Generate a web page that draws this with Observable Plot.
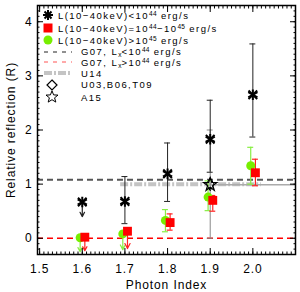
<!DOCTYPE html>
<html><head><meta charset="utf-8">
<script src="https://cdn.jsdelivr.net/npm/d3@7"></script>
<script src="https://cdn.jsdelivr.net/npm/@observablehq/plot@0.6"></script>
<style>
body{margin:0;background:#fff;font-family:"Liberation Sans",Arial,sans-serif;}
#wrap{position:relative;width:300px;height:292px;}
#legend{position:absolute;left:0;top:0;font-size:9.5px;letter-spacing:1.45px;line-height:1;color:#000;}
.row{position:absolute;display:flex;align-items:center;white-space:nowrap;height:10px;}
.row span{line-height:9px;display:inline-block;}
.row svg{flex:none;}
sup{font-size:6.5px;line-height:0;vertical-align:3.5px;letter-spacing:0.3px;}
sub{font-size:6.5px;line-height:0;vertical-align:-2px;letter-spacing:0;}
</style></head><body>
<div id="wrap"><div id="chart"></div><div id="legend"></div></div>
<script>
// Photon index bins
const gamma = [1.6, 1.7, 1.8, 1.9, 2.0];
// L(10-40keV) < 1e44
const lowR   = [0.67, 0.68, 1.19, 1.83, 2.65];
const lowLo  = [null, 0.27, 0.68, 1.22, 1.87];
const lowHi  = [null, 1.14, 1.76, 2.55, 3.59];
const lowLim = [0.40, null, null, null, null];
// L = 1e44 - 1e45
const midR   = [0.02, 0.13, 0.29, 0.70, 1.21];
const midLo  = [null, null, 0.15, 0.50, 0.97];
const midHi  = [null, null, 0.45, 0.79, 1.46];
const midLim = [-0.23, -0.19, null, null, null];
// L > 1e45
const hiR    = [0.01, 0.08, 0.33, 0.76, 1.34];
const hiLo   = [null, null, 0.12, 0.51, 1.00];
const hiHi   = [null, null, 0.53, 1.06, 1.68];
const hiLim  = [-0.25, -0.21, null, null, null];
// reference values
const g07Low = 1.08, g07High = 0.0;
const u14 = {x1: 1.69, x2: 2.02, y: 1.0};
const a15 = {x: 1.9, y: 0.99, lo: 0.0, hi: 2.0, x2: 2.1};
const u03 = {x: 1.9, y: 1.0};
const xTicks = [1.5, 1.6, 1.7, 1.8, 1.9, 2.0];
const yTicks = [0, 1, 2, 3, 4];

const mk = (R, lo, hi, lim, dx) => gamma.map((g, i) => ({x: g + dx, y: R[i], lo: lo[i], hi: hi[i], lim: lim[i]}));
const low = mk(lowR, lowLo, lowHi, lowLim, 0);
const mid = mk(midR, midLo, midHi, midLim, 0.006);
const hig = mk(hiR, hiLo, hiHi, hiLim, -0.005);
const withErr = a => a.filter(d => d.lo != null);
const withLim = a => a.filter(d => d.lim != null);
const cap = 0.007;

const errMarks = (data, color, sw) => [
  Plot.ruleX(withErr(data), {x: "x", y1: "lo", y2: "hi", stroke: color, strokeWidth: sw}),
  Plot.ruleY(withErr(data), {y: "lo", x1: d => d.x - cap, x2: d => d.x + cap, stroke: color, strokeWidth: sw}),
  Plot.ruleY(withErr(data), {y: "hi", x1: d => d.x - cap, x2: d => d.x + cap, stroke: color, strokeWidth: sw}),
  Plot.arrow(withLim(data), {x1: "x", x2: "x", y1: "y", y2: "lim", stroke: color, strokeWidth: 1.2, headLength: 7, headAngle: 55})
];

const minorX = d3.range(150, 210).map(v => v / 100);
const minorY = d3.range(-3, 44).map(v => v / 10);
const F = "Liberation Sans, Arial, sans-serif";

const plot = Plot.plot({
  width: 300, height: 292,
  marginLeft: 37, marginRight: 5, marginTop: 5, marginBottom: 38,
  style: {fontFamily: F, fontSize: "12px", letterSpacing: "0.9px", background: "white"},
  x: {domain: [1.495, 2.1]},
  y: {domain: [-0.3, 4.3]},
  marks: [
    // reference lines
    Plot.ruleY([g07High], {stroke: "#ff0000", strokeWidth: 1.5, strokeDasharray: "6,4"}),
    Plot.ruleY([u14], {y: "y", x1: "x1", x2: "x2", stroke: "#c4c4c4", strokeWidth: 4, strokeDasharray: "8,2,2,2"}),
    Plot.ruleY([a15], {y: "y", x1: "x", x2: "x2", stroke: "#aaaaaa", strokeWidth: 1.5}),
    Plot.ruleY([g07Low], {stroke: "#555", strokeWidth: 2, strokeDasharray: "6,4"}),
    // A15 error bar
    Plot.ruleX([a15], {x: "x", y1: "lo", y2: "hi", stroke: "#888", strokeWidth: 1}),
    Plot.ruleY([a15], {y: "lo", x1: d => d.x - cap, x2: d => d.x + cap, stroke: "#888"}),
    Plot.ruleY([a15], {y: "hi", x1: d => d.x - cap, x2: d => d.x + cap, stroke: "#888"}),
    // error bars
    ...errMarks(low, "#222", 1),
    ...errMarks(hig, "#88ee44", 1.2),
    ...errMarks(mid, "#ff2222", 1.2),
    // points
    Plot.dot(hig, {x: "x", y: "y", r: 4.5, fill: "#77ee00", stroke: "none"}),
    Plot.dot(mid, {x: "x", y: "y", symbol: "square", r: 5, fill: "#ff0000", stroke: "none"}),
    Plot.dot(low, {x: "x", y: "y", symbol: "asterisk", r: 5, stroke: "#000", strokeWidth: 2}),
    Plot.dot(low, {x: "x", y: "y", symbol: "times", r: 4, stroke: "#000", strokeWidth: 2}),
    Plot.dot([u03], {x: "x", y: "y", symbol: "diamond", r: 4, fill: "none", stroke: "#000", strokeWidth: 1}),
    Plot.dot([a15], {x: "x", y: "y", symbol: "star", r: 4.2, fill: "none", stroke: "#000", strokeWidth: 1.2}),
    // axes: inward ticks on all four sides
    Plot.axisX(xTicks, {anchor: "bottom", tickSize: 0, tickPadding: 10, tickFormat: d3.format(".1f"), label: "Photon Index", labelAnchor: "center", labelArrow: "none", labelOffset: 34, fontSize: 12}),
    Plot.axisX(xTicks, {anchor: "bottom", tickSize: -6, text: null, label: null}),
    Plot.axisX(minorX, {anchor: "bottom", tickSize: -2.5, text: null, label: null}),
    Plot.axisX(xTicks, {anchor: "top", tickSize: -6, text: null, label: null}),
    Plot.axisX(minorX, {anchor: "top", tickSize: -2.5, text: null, label: null}),
    Plot.axisY(yTicks, {anchor: "left", tickSize: 0, tickPadding: 5, tickFormat: d3.format("d"), label: "Relative reflection (R)", labelAnchor: "center", labelArrow: "none", labelOffset: 31, fontSize: 12}),
    Plot.axisY(yTicks, {anchor: "left", tickSize: -6, text: null, label: null}),
    Plot.axisY(minorY, {anchor: "left", tickSize: -2.5, text: null, label: null}),
    Plot.axisY(yTicks, {anchor: "right", tickSize: -6, text: null, label: null}),
    Plot.axisY(minorY, {anchor: "right", tickSize: -2.5, text: null, label: null}),
    Plot.frame({stroke: "#000", strokeWidth: 1.5})
  ]
});
document.getElementById("chart").append(plot);

// legend
const legendRows = [
  {top: 15, w: 17, left: 41, sym: `<path d="M7,2V12M2,7H12M3.5,3.5L10.5,10.5M10.5,3.5L3.5,10.5" stroke="#000" stroke-width="2"/>`, html: "L(10&minus;40keV)&lt;10<sup>44</sup> erg/s"},
  {top: 28, w: 17, left: 41, sym: `<rect x="2.5" y="2.5" width="9" height="9" fill="#ff0000"/>`, html: "L(10&minus;40keV)=10<sup>44</sup>&minus;10<sup>45</sup> erg/s"},
  {top: 40, w: 17, left: 41, sym: `<circle cx="7" cy="7" r="4.5" fill="#77ee00"/>`, html: "L(10&minus;40keV)&gt;10<sup>45</sup> erg/s"},
  {top: 51.5, w: 37, left: 44, sym: `<line x1="0" y1="7" x2="28" y2="7" stroke="#222" stroke-width="1" stroke-dasharray="4,5"/>`, html: "G07, L<sub>x</sub>&lt;10<sup>44</sup> erg/s"},
  {top: 62, w: 37, left: 44, sym: `<line x1="0" y1="7" x2="28" y2="7" stroke="#ff5555" stroke-width="1" stroke-dasharray="4,5"/>`, html: "G07, L<sub>x</sub>&gt;10<sup>44</sup> erg/s"},
  {top: 73, w: 37, left: 44, sym: `<line x1="0" y1="7" x2="28" y2="7" stroke="#c4c4c4" stroke-width="4" stroke-dasharray="8,2,2,2"/>`, html: "U14"},
  {top: 84.5, w: 37, left: 44, sym: `<path d="M8,2L13,7L8,12L3,7Z" fill="none" stroke="#000" stroke-width="1.2"/>`, html: "U03,B06,T09"},
  {top: 97, w: 37, left: 44, sym: `<path d="M8,0.8L9.6,4.9L14,5.1L10.6,7.8L11.8,12.1L8,9.7L4.2,12.1L5.4,7.8L2,5.1L6.4,4.9Z" fill="none" stroke="#000" stroke-width="1"/>`, html: "A15"}
];
const lg = document.getElementById("legend");
for (const r of legendRows) {
  const div = document.createElement("div");
  div.className = "row";
  div.style.left = r.left + "px";
  div.style.top = (r.top - 5) + "px";
  div.innerHTML = `<svg width="${r.w}" height="14" viewBox="0 0 ${r.w} 14" style="margin-top:0">${r.sym}</svg><span>${r.html}</span>`;
  lg.append(div);
}
</script>
</body></html>
